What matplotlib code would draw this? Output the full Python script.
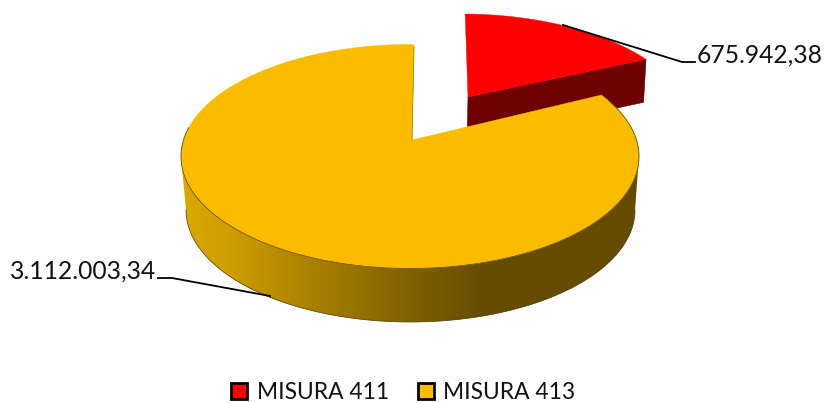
import numpy as np
import matplotlib
matplotlib.use("Agg")
import matplotlib.pyplot as plt
from matplotlib.patches import Polygon, Patch
from matplotlib.colors import LinearSegmentedColormap

categories = ["MISURA 411", "MISURA 413"]
values = [675942.38, 3112003.34]
value_labels = ["675.942,38", "3.112.003,34"]
colors = ["#FF0000", "#FBBC00"]

plt.rcParams["font.family"] = ["Lato", "DejaVu Sans"]
fig = plt.figure(figsize=(8.25, 4.03), dpi=100)
ax = fig.add_axes([0, 0, 1, 1])
ax.set_axis_off()

share = values[0] / sum(values)
sweep = 360 * share            # true angle of the small slice


def ell(cx, cy, rx, ry, t):
    t = np.radians(t)
    return np.column_stack([cx + rx * np.sin(t), cy - ry * np.cos(t)])


# projection of the 3-D view, in figure pixels
RX, RY = 229, 112
YC = (410, 156.5)      # large slice, top face
YB = (410.5, 210)      # large slice, bottom rim
YAPEX = (412, 140)
RC = (462, 126)        # exploded slice, top face
RAPEX = (468, 97)
RDROP = (-1, 43)       # depth of the exploded slice
TXT = 17.7
LEG = 16.4

# exploded slice
t_r = np.linspace(0.8, 0.8 + sweep * 0.82, 60)
r_arc = ell(*RC, RX, RY, t_r)
end = r_arc[-1]
side = [RAPEX, tuple(end), (end[0] - 2.5, end[1] + RDROP[1]),
        (RAPEX[0] + RDROP[0], RAPEX[1] + RDROP[1])]
ax.add_patch(Polygon(side, closed=True, fc="#6E0000", ec="#6E0000", lw=0.4, zorder=2))
ax.add_patch(Polygon(np.vstack([[RAPEX], r_arc]), closed=True, fc=colors[0],
                     ec=colors[0], lw=0.3, zorder=3))

# rim of the large slice with its horizontal shading
t_up = np.linspace(90, 270, 200)
strip = np.vstack([ell(*YC, RX, RY, t_up), ell(*YB, 224.5, RY, t_up[::-1])])
clip = Polygon(strip, closed=True, transform=ax.transData, fc="none", ec="none")
ax.add_patch(clip)
cmap = LinearSegmentedColormap.from_list(
    "rim",
    [(0.00, "#DCA800"), (0.10, "#CF9E00"), (0.20, "#BA8E00"), (0.35, "#9C7700"),
     (0.50, "#806100"), (0.66, "#664C00"), (1.00, "#664C00")])
grad = np.linspace(0, 1, 460).reshape(1, -1)
im = ax.imshow(grad, cmap=cmap, extent=(181, 640, 340, 140), aspect="auto", zorder=4)
im.set_clip_path(clip)
ax.plot(*ell(*YB, 224.5, RY, t_up).T, color="#4d3a00", lw=0.5, zorder=5)

# top face of the large slice
t_y = np.linspace(0.8 + sweep * 0.87, 361, 300)
ax.add_patch(Polygon(np.vstack([[YAPEX], ell(*YC, RX, RY, t_y)]), closed=True,
                     fc=colors[1], ec=colors[1], lw=0.3, zorder=6))
# dark edge only along the front of the top face, and on the cut
ax.plot(*ell(*YC, RX, RY, np.linspace(60, 285, 200)).T, color="#5f4800", lw=0.55, zorder=6)
ax.plot([414, YAPEX[0]], [47, YAPEX[1]], color="#a98000", lw=0.6, zorder=6)

# leader lines
ax.plot([563, 682, 695], [25, 62, 62], color="black", lw=1.3, zorder=7,
        solid_joinstyle="round")
ax.plot([158, 172, 270], [278, 278, 296], color="black", lw=1.3, zorder=7,
        solid_joinstyle="round")

# data labels
ax.text(697, 62.5, value_labels[0], fontsize=TXT, color="#111111",
        ha="left", va="baseline", zorder=8)
ax.text(156, 278.5, value_labels[1], fontsize=TXT, color="#111111",
        ha="right", va="baseline", zorder=8)

ax.set_xlim(0, 825)
ax.set_ylim(403, 0)

handles = [Patch(fc=c, ec="black", lw=2.0) for c in colors]
ax.legend(handles, categories, ncols=2, frameon=False, fontsize=LEG,
          loc="lower left", bbox_to_anchor=(231 / 825, 0.0),
          borderaxespad=0, borderpad=0, handlelength=0.7, handleheight=0.7,
          handletextpad=0.42, columnspacing=1.28, labelcolor="#111111")

fig.savefig("out.png", dpi=100)
